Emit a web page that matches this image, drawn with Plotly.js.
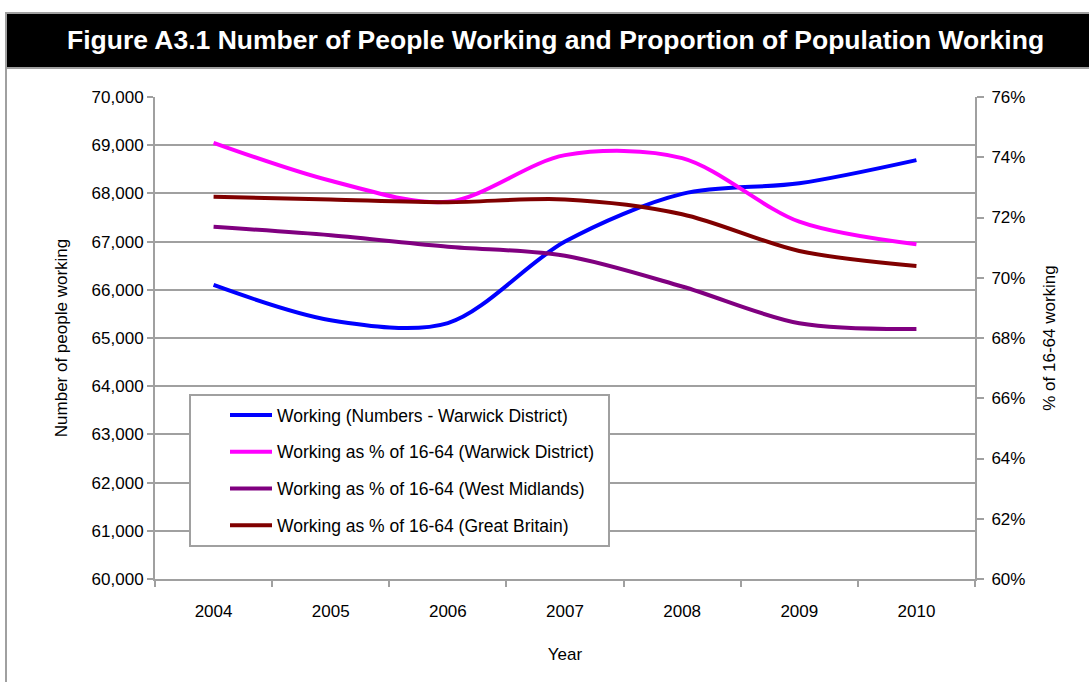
<!DOCTYPE html>
<html>
<head>
<meta charset="utf-8">
<script src="https://cdn.plot.ly/plotly-3.0.1.min.js"></script>
<style>
  html, body { margin: 0; padding: 0; background: #fff; }
  #chart { width: 1089px; height: 682px; }
</style>
</head>
<body>
<div id="chart"></div>
<script>
const years = ["2004", "2005", "2006", "2007", "2008", "2009", "2010"];
const workingNumbers = [66100, 65370, 65310, 67000, 67990, 68210, 68690];
const pctWarwick = [74.48, 73.22, 72.52, 74.07, 73.97, 71.86, 71.11];
const pctWestMidlands = [71.69, 71.41, 71.03, 70.73, 69.71, 68.49, 68.30];
const pctGreatBritain = [72.69, 72.60, 72.51, 72.60, 72.11, 70.89, 70.39];

const seriesNames = [
  "Working (Numbers - Warwick District)",
  "Working as % of 16-64 (Warwick District)",
  "Working as % of 16-64 (West Midlands)",
  "Working as % of 16-64 (Great Britain)"
];
const seriesColors = ["#0000FF", "#FF00FF", "#800080", "#800000"];

const FONT = '"Liberation Sans", Arial, sans-serif';

function trace(y, i, axis) {
  return {
    x: years, y: y, name: seriesNames[i], type: "scatter", mode: "lines",
    yaxis: axis, legendgroup: "g" + i,
    line: { color: seriesColors[i], width: 4, shape: "spline", smoothing: 0.9 }
  };
}

const data = [
  trace(workingNumbers, 0, "y"),
  trace(pctWarwick, 1, "y2"),
  trace(pctWestMidlands, 2, "y2"),
  trace(pctGreatBritain, 3, "y2")
];

const gridCol = "#A0A0A0";
const W = 1089, H = 682, ML = 155, MR = 114, MT = 97, MB = 103;
const plotW = W - ML - MR, plotH = H - MT - MB;
function px(x) { return (x - ML) / plotW; }
function py(y) { return 1 - (y - MT) / plotH; }

const layout = {
  width: W, height: H,
  margin: { l: ML, r: MR, t: MT, b: MB },
  paper_bgcolor: "#ffffff", plot_bgcolor: "#ffffff",
  font: { family: FONT, size: 17, color: "#000" },
  showlegend: true,
  legend: {
    x: px(225), y: py(397), xref: "paper", yref: "paper",
    xanchor: "left", yanchor: "top",
    bgcolor: "rgba(0,0,0,0)", borderwidth: 0,
    font: { family: FONT, size: 17.5, color: "#000" },
    traceorder: "grouped", tracegroupgap: 11, itemwidth: 42
  },
  xaxis: {
    type: "category", range: [-0.5, 6.5],
    showline: true, linecolor: gridCol, linewidth: 2,
    ticks: "outside", tickson: "boundaries", ticklen: 6, tickcolor: gridCol, tickwidth: 2,
    showgrid: false, zeroline: false, ticklabelstandoff: 16,
    tickfont: { family: FONT, size: 17 },
    title: { text: "Year", font: { family: FONT, size: 17 }, standoff: 28 }
  },
  yaxis: {
    range: [60000, 70000], dtick: 1000, tickformat: ",",
    showline: true, linecolor: gridCol, linewidth: 2,
    ticks: "outside", ticklen: 6, tickcolor: gridCol, tickwidth: 2,
    showgrid: true, gridcolor: gridCol, gridwidth: 2, zeroline: false,
    tickfont: { family: FONT, size: 17 },
    title: { text: "Number of people working", font: { family: FONT, size: 17 }, standoff: 20 }
  },
  yaxis2: {
    overlaying: "y", side: "right",
    range: [60, 76], dtick: 2, ticksuffix: "%",
    showline: true, linecolor: gridCol, linewidth: 2,
    ticks: "outside", ticklen: 7, tickcolor: gridCol, tickwidth: 2,
    showgrid: false, zeroline: false, ticklabelstandoff: 4,
    tickfont: { family: FONT, size: 17 },
    title: { text: "% of 16-64 working", font: { family: FONT, size: 17 }, standoff: 19 }
  },
  shapes: [
    { type: "rect", xref: "paper", yref: "paper", layer: "below",
      x0: px(6), x1: px(1095), y0: py(690), y1: py(13),
      line: { color: "#A0A0A0", width: 2 }, fillcolor: "#ffffff" },
    { type: "rect", xref: "paper", yref: "paper", layer: "below",
      x0: px(6), x1: px(1095), y0: py(68), y1: py(13),
      line: { color: "#A0A0A0", width: 2 }, fillcolor: "#000000" },
    { type: "rect", xref: "paper", yref: "paper", layer: "above",
      x0: px(190), x1: px(609), y0: py(546), y1: py(395),
      line: { color: "#A0A0A0", width: 2 }, fillcolor: "#ffffff" }
  ],
  annotations: [
    { xref: "paper", yref: "paper", x: px(555), y: py(40), xanchor: "center", yanchor: "middle",
      showarrow: false, text: "<b>Figure A3.1 Number of People Working and Proportion of Population Working</b>",
      font: { family: FONT, size: 26.5, color: "#ffffff" } }
  ]
};

Plotly.newPlot("chart", data, layout, { displayModeBar: false, staticPlot: true });
</script>
</body>
</html>
